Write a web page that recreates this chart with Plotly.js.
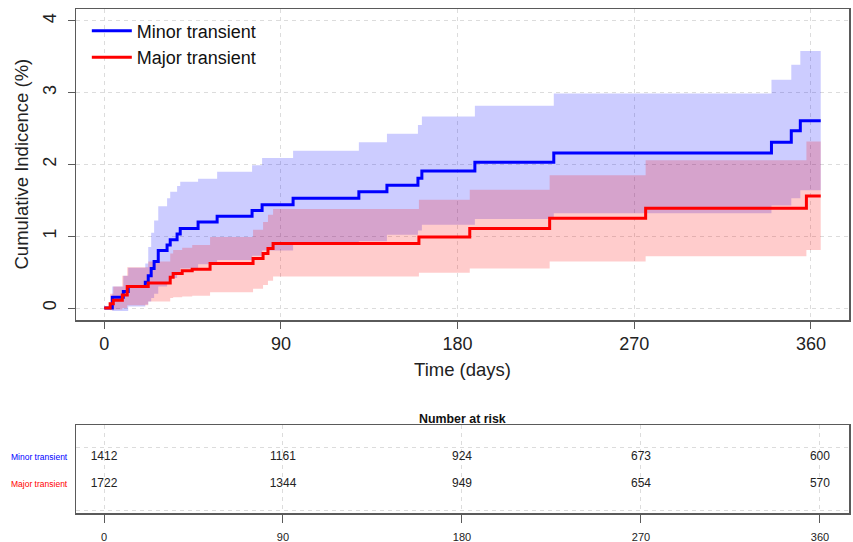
<!DOCTYPE html>
<html>
<head>
<meta charset="utf-8">
<script src="https://cdn.plot.ly/plotly-3.0.1.min.js"></script>
<style>html,body{margin:0;padding:0;background:#fff;}#chart{width:853px;height:542px;}</style>
</head>
<body>
<div id="chart"></div>
<script>
// ---- Data ----
const blueTime = [0, 4.1, 9.7, 12.2, 20.9, 22.4, 23.9, 25.4, 27.5, 32, 33.6, 37.1, 38.7, 47.8, 57.5, 75.3, 80.4, 96.2, 129.7, 144, 159.8, 161.8, 188.8, 229, 339.9, 350, 354.6, 365];
const blueEst  = [0, 0.15, 0.23, 0.30, 0.36, 0.45, 0.55, 0.65, 0.80, 0.88, 0.95, 1.03, 1.11, 1.20, 1.28, 1.36, 1.44, 1.53, 1.62, 1.71, 1.81, 1.91, 2.03, 2.16, 2.31, 2.47, 2.61, 2.61];
const blueLow  = [0, -0.04, -0.04, 0.02, 0.05, 0.09, 0.14, 0.20, 0.30, 0.36, 0.42, 0.48, 0.55, 0.61, 0.67, 0.73, 0.80, 0.88, 0.93, 1.02, 1.08, 1.16, 1.24, 1.32, 1.43, 1.53, 1.64, 1.64];
const blueUp   = [0, 0.30, 0.45, 0.56, 0.62, 0.85, 1.05, 1.22, 1.42, 1.53, 1.62, 1.70, 1.76, 1.80, 1.90, 1.99, 2.09, 2.19, 2.31, 2.43, 2.55, 2.67, 2.82, 2.99, 3.18, 3.39, 3.58, 3.58];

const redTime = [0, 3, 4.6, 9.2, 11.7, 22.4, 33.6, 35.1, 39.7, 44.8, 53.9, 75.8, 80.9, 83.4, 86, 160.3, 186.2, 226.9, 275.8, 357.7, 365];
const redEst  = [0, 0.06, 0.11, 0.18, 0.30, 0.35, 0.43, 0.48, 0.52, 0.54, 0.62, 0.69, 0.76, 0.83, 0.90, 0.99, 1.11, 1.25, 1.39, 1.56, 1.56];
const redLow  = [0, -0.03, -0.02, 0.00, 0.04, 0.09, 0.14, 0.15, 0.16, 0.17, 0.22, 0.27, 0.32, 0.38, 0.44, 0.49, 0.55, 0.65, 0.72, 0.81, 0.81];
const redUp   = [0, 0.20, 0.30, 0.45, 0.57, 0.65, 0.76, 0.81, 0.84, 0.88, 0.99, 1.09, 1.20, 1.30, 1.38, 1.51, 1.65, 1.85, 2.06, 2.32, 2.32];

const groupNames = ["Minor transient", "Major transient"];
const xTicks = [0, 90, 180, 270, 360];
const yTicks = [0, 1, 2, 3, 4];
const riskTimes = [0, 90, 180, 270, 360];
const minorRisk = [1412, 1161, 924, 673, 600];
const majorRisk = [1722, 1344, 949, 654, 570];
const riskRowPos = [0.636, 0.33];
const riskGrid = [0.034, 0.739];

// ---- Styling ----
const FONT = "Liberation Sans, Arial, sans-serif";
const BLUE = "#0000ff", RED = "#ff0000";
const BLUE_FILL = "rgba(0,0,255,0.2)", RED_FILL = "rgba(255,0,0,0.2)";
const GRID = "rgb(220,220,220)";
const BOX = "#5a5a5a";
const MAIN_DOMAIN = [0.3829, 1];
const Y_RANGE = [-0.167, 4.167];

function band(x, lo, hi, fill, xa, ya) {
  return [
    {x: x, y: lo, type: "scatter", mode: "lines", line: {width: 0, shape: "hv"}, showlegend: false, hoverinfo: "skip", xaxis: xa, yaxis: ya},
    {x: x, y: hi, type: "scatter", mode: "lines", line: {width: 0, shape: "hv"}, fill: "tonexty", fillcolor: fill, showlegend: false, hoverinfo: "skip", xaxis: xa, yaxis: ya}
  ];
}

const data = [].concat(
  band(blueTime, blueLow, blueUp, BLUE_FILL, "x", "y"),
  band(redTime, redLow, redUp, RED_FILL, "x", "y"),
  [
    {x: blueTime, y: blueEst, type: "scatter", mode: "lines", name: groupNames[0], line: {color: BLUE, width: 3, shape: "hv"}, xaxis: "x", yaxis: "y"},
    {x: redTime, y: redEst, type: "scatter", mode: "lines", name: groupNames[1], line: {color: RED, width: 3, shape: "hv"}, xaxis: "x", yaxis: "y"},
    // invisible carrier for the offset y tick-label axis
    {x: [xTicks[0]], y: [yTicks[0]], type: "scatter", mode: "markers", marker: {opacity: 0}, showlegend: false, hoverinfo: "skip", xaxis: "x", yaxis: "y3"},
    {x: riskTimes, y: riskTimes.map(() => riskRowPos[0]), text: minorRisk.map(String), type: "scatter", mode: "text", textfont: {family: FONT, size: 12, color: "#222"}, showlegend: false, hoverinfo: "skip", xaxis: "x2", yaxis: "y2"},
    {x: riskTimes, y: riskTimes.map(() => riskRowPos[1]), text: majorRisk.map(String), type: "scatter", mode: "text", textfont: {family: FONT, size: 12, color: "#222"}, showlegend: false, hoverinfo: "skip", xaxis: "x2", yaxis: "y2"}
  ]
);

const layout = {
  width: 853, height: 542,
  margin: {l: 76, r: 4, t: 9, b: 29},
  paper_bgcolor: "#fff", plot_bgcolor: "#fff",
  font: {family: FONT, color: "#222"},
  showlegend: true,
  legend: {x: 0.014, y: 0.993, xanchor: "left", yanchor: "top", traceorder: "normal", bgcolor: "rgba(0,0,0,0)", font: {family: FONT, size: 18, color: "#111"}, tracegroupgap: 0, itemwidth: 40},
  xaxis: {
    domain: [0, 1], range: [-14.4, 379.4], anchor: "y",
    tickvals: xTicks, ticks: "outside", ticklen: 7, tickcolor: BOX, tickwidth: 1,
    tickfont: {family: FONT, size: 18, color: "#222"},
    showgrid: true, gridcolor: GRID, griddash: "4px,4px", gridwidth: 1,
    zeroline: false, showline: true, mirror: true, linecolor: BOX, linewidth: 1.5,
    title: {text: "Time (days)", font: {family: FONT, size: 18.5, color: "#222"}, standoff: 10}
  },
  yaxis: {
    domain: MAIN_DOMAIN, range: Y_RANGE, anchor: "x",
    tickvals: yTicks, ticks: "outside", ticklen: 7, tickcolor: BOX, tickwidth: 1,
    showticklabels: false,
    showgrid: true, gridcolor: GRID, griddash: "4px,4px", gridwidth: 1,
    zeroline: false, showline: true, mirror: true, linecolor: BOX, linewidth: 1.5
  },
  yaxis3: {
    overlaying: "y", anchor: "free", position: 0, shift: -16, side: "left",
    range: Y_RANGE, tickvals: yTicks, tickangle: -90, ticks: "",
    tickfont: {family: FONT, size: 18, color: "#222"},
    showgrid: false, zeroline: false, showline: false
  },
  xaxis2: {
    domain: [0, 1], range: [-14.08, 374.6], anchor: "y2",
    tickvals: riskTimes, ticks: "outside", ticklen: 8, tickcolor: BOX, tickwidth: 1,
    ticklabelstandoff: 5,
    tickfont: {family: FONT, size: 11, color: "#222"},
    showgrid: true, gridcolor: GRID, griddash: "4px,4px", gridwidth: 1,
    zeroline: false, showline: true, mirror: true, linecolor: BOX, linewidth: 1.5
  },
  yaxis2: {
    domain: [0, 0.1746], range: [0, 1], anchor: "x2",
    tickvals: riskGrid, showticklabels: false, ticks: "",
    showgrid: true, gridcolor: GRID, griddash: "4px,4px", gridwidth: 1,
    zeroline: false, showline: true, mirror: true, linecolor: BOX, linewidth: 1.5
  },
  annotations: [
    {text: "Cumulative Indicence (%)", textangle: -90, xref: "paper", yref: "paper", x: 0, xshift: -54, y: (MAIN_DOMAIN[0] + MAIN_DOMAIN[1]) / 2, xanchor: "center", yanchor: "middle", showarrow: false, font: {family: FONT, size: 18.5, color: "#222"}},
    {text: "<b>Number at risk</b>", xref: "paper", yref: "paper", x: 0.5, y: 0.1746, yshift: -3, xanchor: "center", yanchor: "bottom", showarrow: false, font: {family: FONT, size: 12.4, color: "#111"}},
    {text: groupNames[0], xref: "paper", yref: "y2", x: 0, y: riskRowPos[0], xshift: -6, xanchor: "right", yanchor: "middle", showarrow: false, font: {family: FONT, size: 8.5, color: BLUE}},
    {text: groupNames[1], xref: "paper", yref: "y2", x: 0, y: riskRowPos[1], xshift: -6, xanchor: "right", yanchor: "middle", showarrow: false, font: {family: FONT, size: 8.5, color: RED}}
  ]
};

Plotly.newPlot("chart", data, layout, {displayModeBar: false, staticPlot: true});
</script>
</body>
</html>
